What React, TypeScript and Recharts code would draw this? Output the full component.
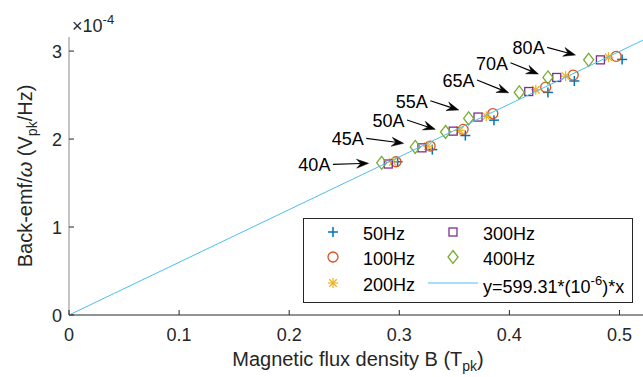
import React from 'react';
import { ScatterChart, Scatter, XAxis, YAxis, Legend, ReferenceLine } from 'recharts';

const FONT = 'Arial, "Liberation Sans", Helvetica, sans-serif';
const AX = '#262626';

// Current labels for annotations
const currents = ['40A', '45A', '50A', '55A', '65A', '70A', '80A'];

// Series values: B (T_pk) and back-emf/omega (x1e-4 V_pk/Hz)
const b50 = [0.2985, 0.330, 0.360, 0.386, 0.435, 0.459, 0.5024];
const v50 = [1.742, 1.88, 2.04, 2.215, 2.53, 2.66, 2.905];
const b100 = [0.297, 0.328, 0.358, 0.385, 0.433, 0.458, 0.497];
const v100 = [1.742, 1.92, 2.11, 2.29, 2.59, 2.727, 2.94];
const b200 = [0.294, 0.326, 0.355, 0.379, 0.424, 0.451, 0.490];
const v200 = [1.74, 1.92, 2.10, 2.26, 2.56, 2.715, 2.93];
const b300 = [0.290, 0.3206, 0.349, 0.3715, 0.4176, 0.443, 0.4827];
const v300 = [1.716, 1.90, 2.09, 2.25, 2.54, 2.70, 2.90];
const b400 = [0.284, 0.3145, 0.342, 0.363, 0.409, 0.435, 0.472];
const v400 = [1.73, 1.91, 2.08, 2.235, 2.53, 2.70, 2.90];

// Fit line y = 599.31e-6 * x  (endpoints, in x1e-4 units)
const fitB = [0, 0.525];
const fitV = [0, 3.146];

// Annotation arrows (data coordinates)
const arrowStartB = [0.2397, 0.270, 0.307, 0.3282, 0.3706, 0.401, 0.4343];
const arrowStartV = [1.7125, 2.008, 2.216, 2.435, 2.67, 2.867, 3.042];
const arrowEndB = [0.2721, 0.3039, 0.3327, 0.354, 0.3994, 0.4264, 0.46];
const arrowEndV = [1.724, 1.951, 2.11, 2.33, 2.526, 2.739, 2.955];

// Axes ticks
const xTicks = [0, 0.1, 0.2, 0.3, 0.4, 0.5];
const xTickLabels = ['0', '0.1', '0.2', '0.3', '0.4', '0.5'];
const yTicks = [0, 1, 2, 3];

const C50 = '#0072BD';
const C100 = '#D95319';
const C200 = '#EDB120';
const C300 = '#7E2F8E';
const C400 = '#77AC30';
const CFIT = '#4DBEEE';

const toPts = (bs: number[], vs: number[]) => bs.map((B, i) => ({ B, v: vs[i] }));

type Kind = 'plus' | 'circle' | 'star' | 'square' | 'diamond';

const Marker = ({ kind, cx, cy, color }: { kind: Kind; cx: number; cy: number; color: string }) => {
  const s = 5;
  if (kind === 'plus')
    return (
      <g stroke={color} strokeWidth={1.5}>
        <line x1={cx - s} y1={cy} x2={cx + s} y2={cy} />
        <line x1={cx} y1={cy - s} x2={cx} y2={cy + s} />
      </g>
    );
  if (kind === 'circle') return <circle cx={cx} cy={cy} r={5} fill="none" stroke={color} strokeWidth={1.3} />;
  if (kind === 'star') {
    const d = s * 0.75;
    return (
      <g stroke={color} strokeWidth={1.2}>
        <line x1={cx - s} y1={cy} x2={cx + s} y2={cy} />
        <line x1={cx} y1={cy - s} x2={cx} y2={cy + s} />
        <line x1={cx - d} y1={cy - d} x2={cx + d} y2={cy + d} />
        <line x1={cx - d} y1={cy + d} x2={cx + d} y2={cy - d} />
      </g>
    );
  }
  if (kind === 'square')
    return <rect x={cx - 4} y={cy - 4} width={8} height={8} fill="none" stroke={color} strokeWidth={1.3} />;
  return (
    <polygon
      points={`${cx},${cy - 6.5} ${cx + 5},${cy} ${cx},${cy + 6.5} ${cx - 5},${cy}`}
      fill="none"
      stroke={color}
      strokeWidth={1.3}
    />
  );
};

const shapeFor = (kind: Kind, color: string) => (p: any) => <Marker kind={kind} cx={p.cx} cy={p.cy} color={color} />;

const seriesDefs: { name: string; kind: Kind; color: string; data: { B: number; v: number }[] }[] = [
  { name: '50Hz', kind: 'plus', color: C50, data: toPts(b50, v50) },
  { name: '100Hz', kind: 'circle', color: C100, data: toPts(b100, v100) },
  { name: '200Hz', kind: 'star', color: C200, data: toPts(b200, v200) },
  { name: '300Hz', kind: 'square', color: C300, data: toPts(b300, v300) },
  { name: '400Hz', kind: 'diamond', color: C400, data: toPts(b400, v400) },
];

const BottomTick = (p: any) => {
  const i = xTicks.indexOf(p.payload.value);
  return (
    <g>
      <line x1={p.x} y1={p.y} x2={p.x} y2={p.y - 5} stroke={AX} strokeWidth={1} />
      <text x={p.x} y={p.y + 26} textAnchor="middle" fontSize={18} fill={AX} fontFamily={FONT}>
        {i >= 0 ? xTickLabels[i] : String(p.payload.value)}
      </text>
    </g>
  );
};

const TopTick = (p: any) => (
  <line x1={p.x} y1={p.y} x2={p.x} y2={p.y + 5} stroke={AX} strokeWidth={1} />
);

const LeftTick = (p: any) => (
  <g>
    <line x1={p.x} y1={p.y} x2={p.x + 5} y2={p.y} stroke={AX} strokeWidth={1} />
    <text x={p.x - 7} y={p.y + 6.5} textAnchor="end" fontSize={18} fill={AX} fontFamily={FONT}>
      {p.payload.value}
    </text>
  </g>
);

const YLabel = (p: any) => {
  const vb = p.viewBox || {};
  const cy = vb.y + vb.height / 2;
  const tx = 32;
  return (
    <g fontFamily={FONT} fill={AX}>
      <text x={tx} y={cy} transform={`rotate(-90 ${tx} ${cy})`} textAnchor="middle" fontSize={20}>
        Back-emf/<tspan fontStyle="italic">ω</tspan> (V<tspan dy={5} fontSize={14}>pk</tspan>
        <tspan dy={-5}>/Hz)</tspan>
      </text>
      <text x={vb.x + vb.width + 3} y={vb.y - 5} fontSize={18}>
        ×10<tspan dy={-8} fontSize={13}>-4</tspan>
      </text>
    </g>
  );
};

const XLabel = (p: any) => {
  const vb = p.viewBox || {};
  const cx = vb.x + vb.width / 2;
  return (
    <text x={cx} y={vb.y + 51} textAnchor="middle" fontSize={20} fill={AX} fontFamily={FONT}>
      Magnetic flux density B (T<tspan dy={5} fontSize={14}>pk</tspan>
      <tspan dy={-5}>)</tspan>
    </text>
  );
};

const arrowShape = (label: string) => (p: any) => {
  const { x1, y1, x2, y2 } = p;
  if ([x1, y1, x2, y2].some((v) => typeof v !== 'number' || isNaN(v))) return <g />;
  const dx = x2 - x1;
  const dy = y2 - y1;
  const len = Math.sqrt(dx * dx + dy * dy) || 1;
  const ux = dx / len;
  const uy = dy / len;
  const nx = -uy;
  const ny = ux;
  const L = 12;
  const W = 4.5;
  const bx = x2 - L * ux;
  const by = y2 - L * uy;
  const mx = x2 - 0.65 * L * ux;
  const my = y2 - 0.65 * L * uy;
  return (
    <g>
      <line x1={x1} y1={y1} x2={mx} y2={my} stroke="#000" strokeWidth={1.1} />
      <polygon
        points={`${x2},${y2} ${bx + W * nx},${by + W * ny} ${mx},${my} ${bx - W * nx},${by - W * ny}`}
        fill="#000"
        stroke="#000"
        strokeWidth={0.5}
      />
      <text x={x1 - 2.5} y={y1 + 7} textAnchor="end" fontSize={18} fill="#000" fontFamily={FONT}>
        {label}
      </text>
    </g>
  );
};

const legendRowY = [16, 41, 67];

const LegendBox = () => {
  const entries = [
    ...seriesDefs.map((s) => ({ name: s.name, kind: s.kind as Kind | 'line', color: s.color })),
    { name: 'fit', kind: 'line' as Kind | 'line', color: CFIT },
  ];
  return (
    <div
      style={{
        position: 'relative',
        width: 330,
        height: 85,
        border: `1px solid ${AX}`,
        background: '#fff',
        boxSizing: 'border-box',
        fontFamily: FONT,
        fontSize: 18,
        color: '#000',
      }}
    >
      <svg width={330} height={85} style={{ position: 'absolute', left: -1, top: -1 }}>
        {entries.map((e, i) => {
          const col = i < 3 ? 0 : 1;
          const row = i % 3;
          const cy = legendRowY[row];
          if (e.kind === 'line')
            return <line key={i} x1={125} y1={cy - 2} x2={175} y2={cy - 2} stroke={e.color} strokeWidth={1} />;
          return <Marker key={i} kind={e.kind as Kind} cx={col === 0 ? 30 : 150} cy={cy - 2} color={e.color} />;
        })}
        {entries.map((e, i) => {
          const col = i < 3 ? 0 : 1;
          const row = i % 3;
          const y = legendRowY[row] + 6;
          if (e.kind === 'line')
            return (
              <text key={'t' + i} x={180} y={y + 2} fontSize={18} fill="#000" fontFamily={FONT}>
                y=599.31*(10<tspan dy={-8} fontSize={13}>-6</tspan>
                <tspan dy={8}>)*x</tspan>
              </text>
            );
          return (
            <text key={'t' + i} x={col === 0 ? 60 : 180} y={y} fontSize={18} fill="#000" fontFamily={FONT}>
              {e.name}
            </text>
          );
        })}
      </svg>
    </div>
  );
};

export default function App() {
  const fitData = toPts(fitB, fitV);
  return (
    <div
      style={{
        position: 'absolute',
        left: 0,
        top: 0,
        width: 643,
        height: 377,
        overflow: 'hidden',
        background: '#fff',
      }}
    >
      <ScatterChart width={647} height={377} margin={{ top: 37, right: 0, bottom: 0, left: 0 }}>
        <XAxis
          xAxisId={0}
          dataKey="B"
          type="number"
          domain={[0, 0.525]}
          ticks={xTicks}
          allowDataOverflow
          height={62}
          tickSize={0}
          tickMargin={0}
          tickLine={false}
          tick={BottomTick}
          axisLine={{ stroke: AX, strokeWidth: 1 }}
          label={XLabel}
        />
        <XAxis
          xAxisId="top"
          orientation="top"
          dataKey="B"
          type="number"
          domain={[0, 0.525]}
          ticks={xTicks}
          allowDataOverflow
          height={0}
          tickSize={0}
          tickMargin={0}
          tickLine={false}
          tick={TopTick}
          axisLine={{ stroke: '#888', strokeWidth: 1 }}
        />
        <YAxis
          dataKey="v"
          type="number"
          domain={[0, 3.16]}
          ticks={yTicks}
          allowDataOverflow
          width={69}
          tickSize={0}
          tickMargin={0}
          tickLine={false}
          tick={LeftTick}
          axisLine={{ stroke: '#888', strokeWidth: 1 }}
          label={YLabel}
        />
        {seriesDefs.map((s) => (
          <Scatter
            key={s.name}
            name={s.name}
            data={s.data}
            shape={shapeFor(s.kind, s.color)}
            isAnimationActive={false}
          />
        ))}
        <Scatter
          name="fit"
          data={fitData}
          line={{ stroke: CFIT, strokeWidth: 1 }}
          shape={() => <g />}
          isAnimationActive={false}
        />
        {currents.map((c, i) => (
          <ReferenceLine
            key={c}
            segment={[
              { x: arrowStartB[i], y: arrowStartV[i] },
              { x: arrowEndB[i], y: arrowEndV[i] },
            ]}
            ifOverflow="visible"
            shape={arrowShape(c)}
          />
        ))}
        <Legend
          layout="vertical"
          align="center"
          verticalAlign="middle"
          content={() => <LegendBox />}
          wrapperStyle={{ position: 'absolute', left: 303, top: 218, width: 330, height: 85 }}
        />
      </ScatterChart>
    </div>
  );
}
